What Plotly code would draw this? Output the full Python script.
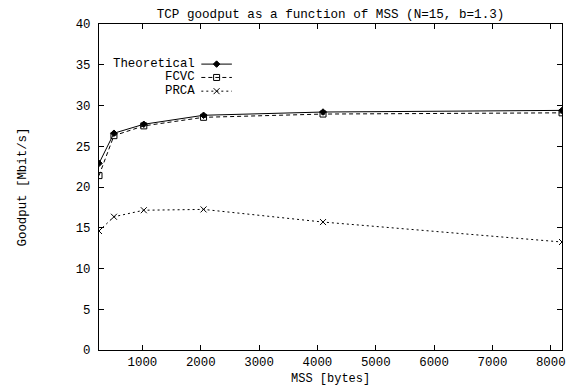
import plotly.graph_objects as go

mss = [256, 512, 1024, 2048, 4096, 8192]
theoretical = [22.9, 26.6, 27.7, 28.8, 29.2, 29.4]
fcvc = [21.4, 26.3, 27.5, 28.55, 28.95, 29.1]
prca = [14.6, 16.35, 17.15, 17.25, 15.7, 13.25]

names = ["Theoretical", "FCVC", "PRCA"]
series = [theoretical, fcvc, prca]
dashes = ["solid", "4px,3px", "2px,3px"]
symbols = ["diamond", "square-open", "x-thin-open"]
sizes = [5, 6, 6]
xticks = [1000, 2000, 3000, 4000, 5000, 6000, 7000, 8000]
yticks = [0, 5, 10, 15, 20, 25, 30, 35, 40]

FONT = "Liberation Mono, Courier New, monospace"
FS = 12.4
fig = go.Figure()
for n, s, d, sym, sz in zip(names, series, dashes, symbols, sizes):
    fig.add_trace(go.Scatter(
        x=mss, y=s, mode="lines+markers", name=n,
        line=dict(color="black", width=1, dash=d),
        marker=dict(symbol=sym, size=sz, color="black",
                    line=dict(color="black", width=1)),
        showlegend=False))

# custom gnuplot-style legend (text right, sample to the right)
leg_y = [0.877, 0.836, 0.794]
for i, (n, d, sym, sz) in enumerate(zip(names, dashes, symbols, sizes)):
    fig.add_trace(go.Scatter(
        x=[0.221, 0.287], y=[leg_y[i], leg_y[i]], mode="lines",
        xaxis="x2", yaxis="y2", showlegend=False, hoverinfo="skip",
        line=dict(color="black", width=1, dash=d)))
    fig.add_trace(go.Scatter(
        x=[0.254], y=[leg_y[i]], mode="markers",
        xaxis="x2", yaxis="y2", showlegend=False, hoverinfo="skip",
        marker=dict(symbol=sym, size=sz, color="black",
                    line=dict(color="black", width=1))))
    fig.add_annotation(x=0.212, y=leg_y[i], xref="x2", yref="y2",
                       text=n, showarrow=False, xanchor="right",
                       yanchor="middle", font=dict(family=FONT, size=FS, color="black"))

fig.add_annotation(x=0.5, y=-0.088, xref="paper", yref="paper", text="MSS [bytes]",
                   showarrow=False, xanchor="center", yanchor="middle",
                   font=dict(family=FONT, size=12, color="black"))

axis_common = dict(showline=True, linecolor="black", linewidth=1, mirror="ticks",
                   ticks="inside", ticklen=5, tickcolor="black", showgrid=False,
                   zeroline=False, automargin=False,
                   tickfont=dict(family=FONT, size=FS, color="black"))
# page body has an 8px margin: figure is sized/offset to compensate
fig.update_layout(
    width=568, height=378,
    margin=dict(l=91, r=14, t=16, b=36),
    paper_bgcolor="white", plot_bgcolor="white",
    title=dict(text="TCP goodput as a function of MSS (N=15, b=1.3)",
               x=(99 + 562) / 2 / 568 - 8 / 568, xanchor="center",
               y=1 - 6 / 378, yanchor="middle",
               font=dict(family=FONT, size=12.6, color="black")),
    xaxis=dict(range=[256, 8192], tickvals=xticks, ticklabelstandoff=0, **axis_common),
    yaxis=dict(range=[0, 40], tickvals=yticks, ticklabelstandoff=5, **axis_common,
               title=dict(text="Goodput [Mbit/s]", standoff=46,
                          font=dict(family=FONT, size=FS, color="black"))),
    xaxis2=dict(range=[0, 1], overlaying="x", visible=False, anchor="y2", automargin=False),
    yaxis2=dict(range=[0, 1], overlaying="y", visible=False, anchor="x2", automargin=False),
)
fig.write_html("out.html")
